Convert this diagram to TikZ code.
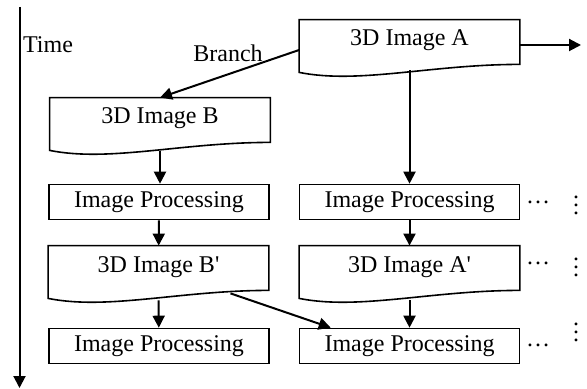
\documentclass[tikz,border=0pt]{standalone}
\usepackage{fontspec}
\setmainfont{Liberation Serif}
\usetikzlibrary{arrows.meta}
\begin{document}
\begin{tikzpicture}[x=0.5pt,y=-0.5pt,font=\fontsize{12}{14}\selectfont,
  >={Triangle[length=6pt,width=6pt]},
  arr/.style={->,line width=1pt},
  procbox/.style={draw,line width=0.8pt,minimum width=110pt,minimum height=17.5pt,inner sep=0pt},
  docbox/.style={minimum width=110pt,minimum height=22pt,inner xsep=0pt,inner ysep=4pt,text height=9pt,text depth=5pt}]
\useasboundingbox (0,0) rectangle (587,389);
% time axis
\coordinate (tTop) at (19.5,7);
\coordinate (tBot) at (19.5,388);
\draw[arr] (tTop)--(tBot);
\node (time) at (48,45) {Time};
% documents
\node[docbox] (imgA) at (409.5,42) {3D Image A};
\node[docbox] (imgB) at (160,120) {3D Image B};
\node[docbox] (imgBp) at (158.5,268) {3D Image B\textquotesingle};
\node[docbox] (imgAp) at (409.5,268) {3D Image A\textquotesingle};
\foreach \n in {imgA,imgB,imgBp,imgAp}{\draw[line width=0.8pt] (\n.north west)--(\n.north east)--(\n.south east) .. controls +(-44.5pt,0pt) and +(30pt,-6pt) .. ([yshift=-4pt]\n.south west)--cycle;}
% processing
\node[procbox] (ipB1) at (159,202) {Image Processing};
\node[procbox] (ipB2) at (159,346) {Image Processing};
\node[procbox] (ipA1) at (409.5,202) {Image Processing};
\node[procbox] (ipA2) at (409.5,346) {Image Processing};
% arrows
\coordinate (out) at (581,45);
\draw[arr] ([yshift=-1.5pt]imgA.east)--(out);
\draw[arr] ([yshift=-4pt]imgA.west)--(imgB.north);
\node (branch) at (228,53) {Branch};
\draw[arr] ([yshift=-3pt]imgA.south)--(ipA1);
\draw[arr] ([yshift=-4.5pt]imgB.south)--(ipB1.north -| imgB.south);
\draw[arr] (ipB1)--(imgBp);
\draw[arr] ([yshift=-5pt]imgBp.south)--(ipB2);
\draw[arr] (ipA1)--(imgAp);
\draw[arr] ([yshift=-5pt]imgAp.south)--(ipA2);
\draw[arr] ([xshift=36pt,yshift=-1.5pt]imgBp.south)--([xshift=16pt]ipA2.north west);
% continuation dots
\foreach \y/\n in {202/h1,263/h2,345/h3}{\node[inner sep=0pt] (\n) at (538,\y) {\ldots};}
\foreach \y/\n in {199/v1,261/v2,326/v3}{\node[inner sep=0pt] (\n) at (576,\y) {$\vdots$};}
\end{tikzpicture}
\end{document}
